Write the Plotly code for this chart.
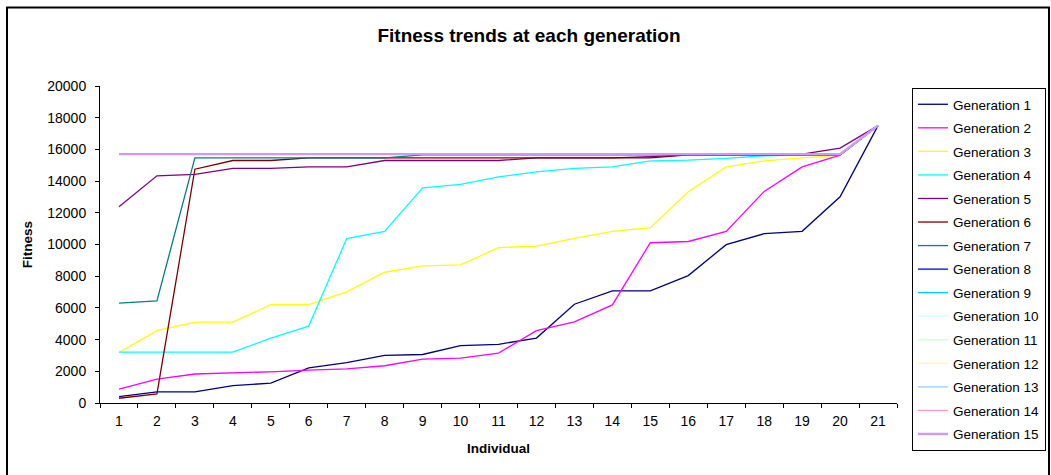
import plotly.graph_objects as go

# Individuals 1..21 along the x axis
individuals = [str(i) for i in range(1, 22)]

gen1 = [400, 700, 700, 1100, 1250, 2220, 2550, 3000, 3060, 3620, 3700, 4100,
        6230, 7070, 7070, 8040, 9990, 10680, 10830, 13010, 17500]
gen2 = [880, 1500, 1830, 1890, 1970, 2080, 2150, 2350, 2770, 2830, 3150, 4570,
        5120, 6190, 10110, 10190, 10830, 13350, 14900, 15640, 17500]
gen3 = [3190, 4570, 5100, 5100, 6210, 6210, 7010, 8250, 8650, 8710, 9800, 9900,
        10390, 10830, 11060, 13330, 14900, 15280, 15470, 15640, 17500]
gen4 = [3210, 3210, 3210, 3210, 4090, 4850, 10370, 10830, 13580, 13790, 14270, 14580,
        14800, 14900, 15280, 15320, 15430, 15600, 15650, 15680, 17500]
gen5 = [12380, 14330, 14420, 14800, 14800, 14900, 14900, 15300, 15300, 15300, 15300, 15470,
        15470, 15470, 15550, 15650, 15650, 15650, 15700, 16080, 17500]
gen6 = [300, 570, 14750, 15300, 15300, 15470, 15470, 15470, 15470, 15470, 15470, 15470,
        15470, 15470, 15470, 15650, 15650, 15650, 15650, 15650, 17500]
gen7 = [6300, 6440, 15470, 15470, 15470, 15470, 15470, 15470, 15650, 15650, 15650, 15650,
        15650, 15650, 15650, 15650, 15650, 15650, 15650, 15650, 17500]
gen8 = [15700] * 20 + [17500]
gen9 = [15700] * 20 + [17500]
gen10 = [15700] * 20 + [17500]
gen11 = [15700] * 20 + [17500]
gen12 = [15700] * 20 + [17500]
gen13 = [15700] * 20 + [17500]
gen14 = [15700] * 20 + [17500]
gen15 = [15700] * 20 + [17500]

series = [gen1, gen2, gen3, gen4, gen5, gen6, gen7, gen8,
          gen9, gen10, gen11, gen12, gen13, gen14, gen15]
names = [f"Generation {i}" for i in range(1, 16)]
colors = ["#000080", "#FF00FF", "#FFFF00", "#00FFFF", "#800080", "#800000",
          "#008080", "#0000FF", "#00CCFF", "#CCFFFF", "#CCFFCC", "#FFFF99",
          "#99CCFF", "#FF99CC", "#CC99FF"]
y_ticks = [0, 2000, 4000, 6000, 8000, 10000, 12000, 14000, 16000, 18000, 20000]

FONT = "Liberation Sans, Arial, sans-serif"

fig = go.Figure()
for i, (vals, name, col) in enumerate(zip(series, names, colors)):
    fig.add_trace(go.Scatter(
        x=individuals, y=vals, name=name, mode="lines",
        line=dict(color=col, width=2.4 if i == 14 else 1.3),
        legendgroup=name,
    ))

# plot area geometry in pixels
L, R, T, B = 100, 897, 85.7, 403.3
W, H = 1051, 475
pw, ph = R - L, B - T

fig.update_layout(
    width=W, height=H,
    margin=dict(l=L, r=W - R, t=T, b=H - B, pad=0),
    paper_bgcolor="white", plot_bgcolor="white",
    font=dict(family=FONT, size=14, color="black"),
    title=dict(text="<b>Fitness trends at each generation</b>",
               x=529 / W, xref="container", xanchor="center",
               y=1 - 35 / H, yref="container", yanchor="middle",
               font=dict(family=FONT, size=19, color="black")),
    showlegend=True,
    legend=dict(x=912 / W, xref="container", xanchor="left",
                y=1 - 88 / H, yref="container", yanchor="top",
                maxheight=460,
                bordercolor="black", borderwidth=1, bgcolor="white",
                font=dict(family=FONT, size=13.5, color="black"),
                tracegroupgap=3, traceorder="grouped"),
)

fig.update_xaxes(
    type="category", categoryorder="array", categoryarray=individuals,
    range=[-0.5, 20.5], showgrid=False, zeroline=False,
    showline=True, linecolor="black", linewidth=1,
    ticks="outside", tickson="boundaries", ticklen=4, tickcolor="black",
    ticklabelstandoff=5, tickfont=dict(size=14),
    title=dict(text="<b>Individual</b>", standoff=15,
               font=dict(family=FONT, size=13.5, color="black")),
)
fig.update_yaxes(
    range=[0, 20000], tickvals=y_ticks, ticktext=[str(v) for v in y_ticks],
    showgrid=False, zeroline=False,
    showline=True, linecolor="black", linewidth=1,
    ticks="outside", ticklen=4, tickcolor="black", ticklabelstandoff=6,
    tickfont=dict(size=14),
    title=dict(text="<b>Fitness</b>", standoff=11,
               font=dict(family=FONT, size=13.5, color="black")),
)

# outer chart frame
fig.add_shape(type="rect", xref="paper", yref="paper",
              x0=(7 - L) / pw, x1=(1049 - L) / pw,
              y0=(B - 490) / ph, y1=(B - 7) / ph,
              line=dict(color="black", width=2), fillcolor="rgba(0,0,0,0)",
              layer="below")

fig.write_html("out.html")
